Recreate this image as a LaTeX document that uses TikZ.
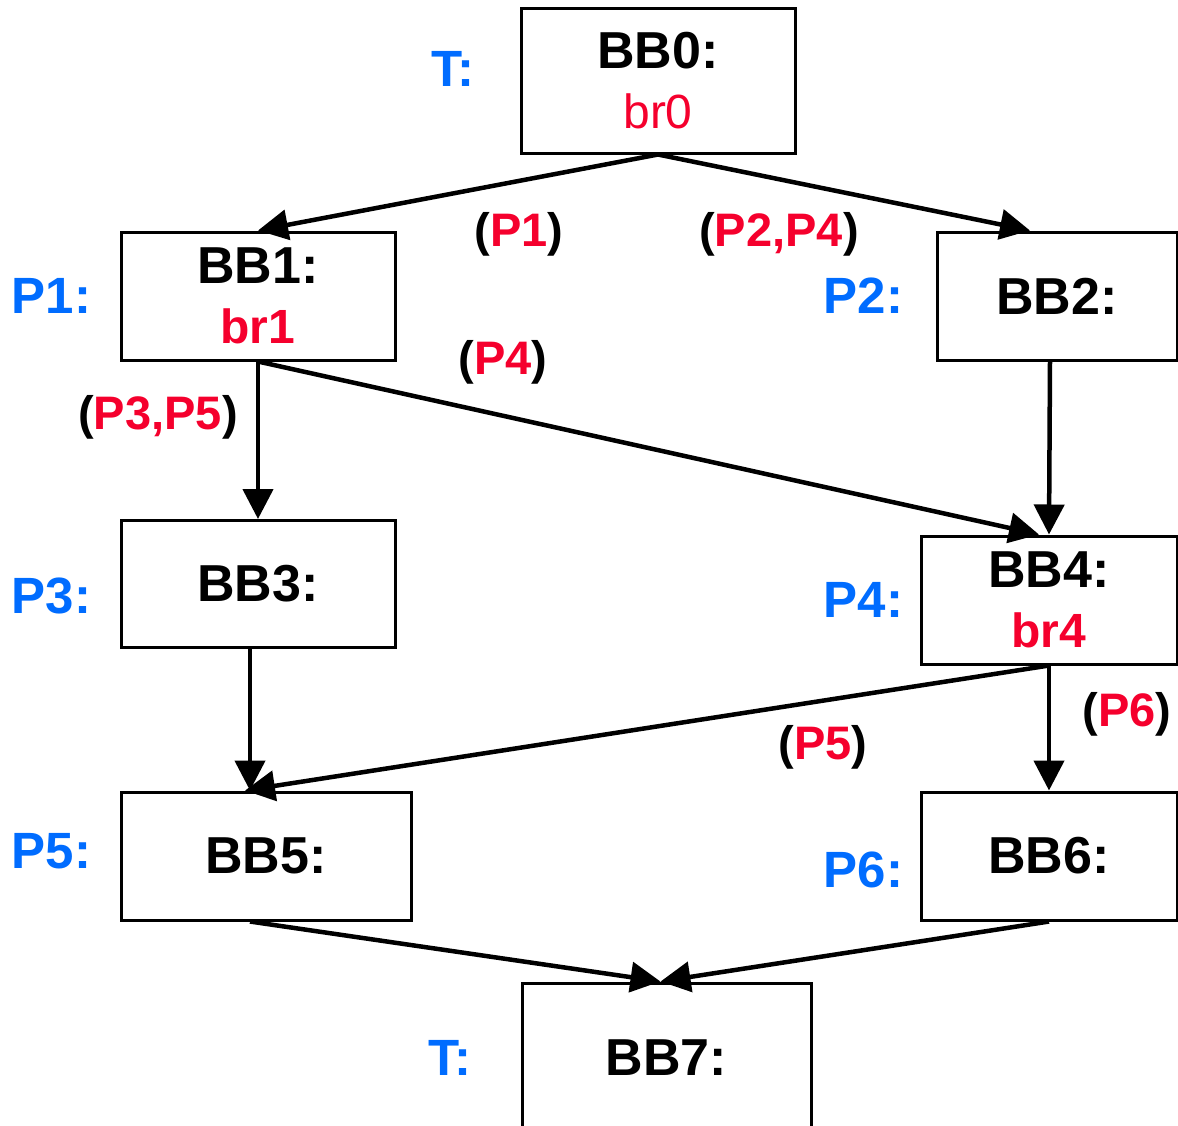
\documentclass[tikz,border=0pt]{standalone}
\usepackage{fontspec}
\setmainfont{Liberation Sans}
\usetikzlibrary{arrows.meta,positioning}
\definecolor{pblue}{RGB}{0,108,255}
\definecolor{pred}{RGB}{245,0,45}
\newcommand{\bbfont}{\fontsize{52}{60}\selectfont\bfseries}
\newcommand{\plfont}{\fontsize{51}{58}\selectfont\bfseries}
\newcommand{\elfont}{\fontsize{47}{54}\selectfont\bfseries}
\newcommand{\brtext}[1]{\textcolor{pred}{\fontsize{48}{60}\selectfont #1}}
\newcommand{\pth}[1]{(\textcolor{pred}{#1})}
\begin{document}
\begin{tikzpicture}[x=1pt, y=-1pt,
  bbox/.style={draw, line width=3pt, rectangle, inner sep=0pt, align=center, font=\bbfont},
  plabel/.style={inner sep=0pt, text=pblue, font=\plfont},
  elabel/.style={inner sep=0pt, font=\elfont},
  flow/.style={line width=4.5pt, -{Triangle[length=30pt, width=30pt]}}]
\clip (0,0) rectangle (1178,1125);
% Blocks
\node[bbox, minimum width=274pt, minimum height=145pt] (bb0) at (658,80.5) {BB0:\\\brtext{\mdseries br0}};
\node[bbox, minimum width=274pt, minimum height=128pt] (bb1) at (258,296) {BB1:\\\brtext{br1}};
\node[bbox, minimum width=240pt, minimum height=128pt] (bb2) at (1057,296) {BB2:};
\node[bbox, minimum width=274pt, minimum height=127pt] (bb3) at (258,584) {BB3:};
\node[bbox, minimum width=256pt, minimum height=128pt] (bb4) at (1049,600) {BB4:\\\brtext{br4}};
\node[bbox, minimum width=290pt, minimum height=128pt] (bb5) at (266,856) {BB5:};
\node[bbox, minimum width=256pt, minimum height=128pt] (bb6) at (1049,856) {BB6:};
\node[bbox, minimum width=289pt, minimum height=150pt] (bb7) at (666.5,1058) {BB7:};

% Predicates
\node[plabel, left=45pt of bb0, yshift=12pt] (t0) {T:};
\node[plabel, left=28pt of bb1] (p1) {P1:};
\node[plabel, left=32pt of bb2] (p2) {P2:};
\node[plabel, left=28pt of bb3, yshift=-12pt] (p3) {P3:};
\node[plabel, left=16pt of bb4] (p4) {P4:};
\node[plabel, left=28pt of bb5, yshift=5pt] (p5) {P5:};
\node[plabel, left=16pt of bb6, yshift=-14pt] (p6) {P6:};
\node[plabel, left=49pt of bb7] (t7) {T:};

% Edge predicates
\node[elabel] (e01) at (519,234) {\pth{P1}};
\node[elabel] (e02) at (779,234) {\pth{P2,P4}};
\node[elabel] (e14) at (503,362) {\pth{P4}};
\node[elabel] (e13) at (158,417) {\pth{P3,P5}};
\node[elabel] (e45) at (823,747) {\pth{P5}};
\node[elabel] (e46) at (1127,714) {\pth{P6}};

% Arrows
\draw[flow] (bb0.south) -- (bb1.north);
\draw[flow] (bb0.south) -- ([xshift=-27pt]bb2.north);
\draw[flow] (bb1.south) -- (bb3.north);
\draw[flow] (bb1.south) -- ([xshift=-10pt]bb4.north);
\draw[flow] ([xshift=-7pt]bb2.south) -- (bb4.north);
\draw[flow] ([xshift=-8pt]bb3.south) -- ([xshift=-16pt]bb5.north);
\draw[flow] (bb4.south) -- ([xshift=-21pt]bb5.north);
\draw[flow] (bb4.south) -- (bb6.north);
\draw[flow] ([xshift=-16pt]bb5.south) -- ([xshift=-6pt]bb7.north);
\draw[flow] (bb6.south) -- ([xshift=-6pt]bb7.north);
\end{tikzpicture}
\end{document}
